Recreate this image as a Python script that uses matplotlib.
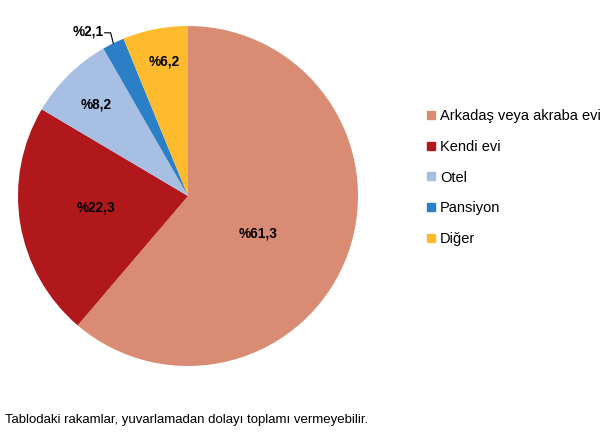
import matplotlib
matplotlib.use("Agg")
import matplotlib.pyplot as plt
from matplotlib.lines import Line2D
import numpy as np

categories = ["Arkadaş veya akraba evi", "Kendi evi", "Otel", "Pansiyon", "Diğer"]
values = [61.3, 22.3, 8.2, 2.1, 6.2]
labels = ["%61,3", "%22,3", "%8,2", "%2,1", "%6,2"]
colors = ["#D98B73", "#B0181C", "#A7BFE2", "#2A7FC6", "#FDBB2D"]
footnote = "Tablodaki rakamlar, yuvarlamadan dolayı toplamı vermeyebilir."

# label positions in pie-radius units (layout)
label_pos = [(0.41, -0.22), (-0.54, -0.07), (-0.54, 0.54), (-0.59, 0.97), (-0.14, 0.79)]

plt.rcParams['font.family'] = ['Liberation Sans', 'DejaVu Sans']

W, H = 608, 433
fig = plt.figure(figsize=(W / 100, H / 100), dpi=100)
cx, cy, r = 188, 196, 170
ax = fig.add_axes([(cx - r) / W, (H - cy - r) / H, 2 * r / W, 2 * r / H])
wedges, _ = ax.pie(values, colors=colors, startangle=90, counterclock=False,
                   radius=1.0, wedgeprops=dict(linewidth=0))
ax.set_xlim(-1, 1)
ax.set_ylim(-1, 1)
ax.set_aspect('auto')
ax.axis('off')

for i, (lab, (x, y)) in enumerate(zip(labels, label_pos)):
    ax.text(x, y, lab, ha='center', va='center', fontsize=9.8, fontweight='bold', color='black')

# leader line for small slice (Pansiyon)
w = wedges[3]
mid = np.deg2rad((w.theta1 + w.theta2) / 2)
ex, ey = np.cos(mid), np.sin(mid)
lx, ly = label_pos[3]
ax.plot([lx + 0.1, lx + 0.135, ex], [ly - 0.01, ly - 0.01, ey], color='black', lw=0.8, clip_on=False)

handles = [Line2D([0], [0], marker='s', linestyle='none', markersize=6,
                  markerfacecolor=c, markeredgecolor=c) for c in colors]
fig.legend(handles, categories, loc='upper left', bbox_to_anchor=(427 / W, 1 - 109 / H),
           frameon=False, fontsize=10.5, handlelength=0.6, handletextpad=0.3,
           labelspacing=1.15, borderpad=0, borderaxespad=0)

fig.text(5 / W, 1 - 420 / H, footnote, ha='left', va='center', fontsize=9.5)

fig.savefig("out.png", dpi=100)
